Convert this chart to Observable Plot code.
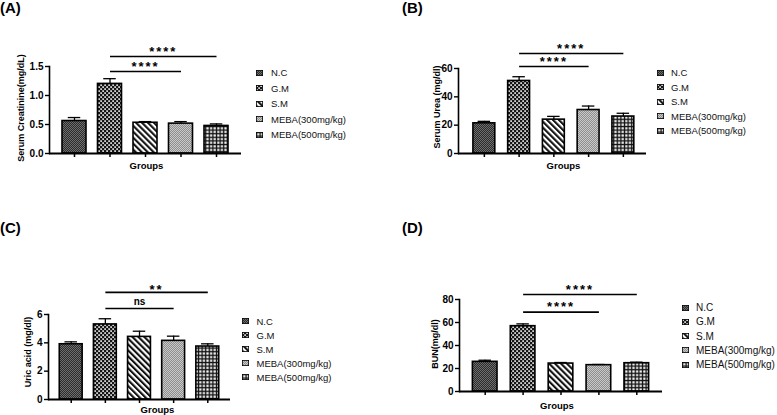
<!DOCTYPE html>
<html>
<head>
<meta charset="utf-8">
<script src="https://cdn.jsdelivr.net/npm/d3@7"></script>
<script src="https://cdn.jsdelivr.net/npm/@observablehq/plot@0.6"></script>
<style>
  html, body { margin: 0; padding: 0; background: #fff; }
  #root { position: relative; width: 777px; height: 415px; overflow: hidden; background: #fff;
          font-family: "Liberation Sans", Arial, sans-serif; color: #000; }
  .panel { position: absolute; }
  .title { position: absolute; font-weight: bold; font-size: 15px; line-height: 15px; white-space: nowrap; }
  .legend { position: absolute; }
  .legrow { position: absolute; left: 0; height: 12px; display: flex; align-items: center; white-space: nowrap; color: #111; }
  .legrow svg { flex: none; display: block; }
</style>
</head>
<body>
<svg width="0" height="0" style="position:absolute;left:0;top:0">
  <defs>
    <pattern id="pNC" width="2" height="2" patternUnits="userSpaceOnUse">
      <rect width="2" height="2" fill="#2c2c2c"/>
      <rect width="1" height="1" fill="#6e6e6e"/>
      <rect x="1" y="1" width="1" height="1" fill="#6e6e6e"/>
    </pattern>
    <pattern id="pGM" width="4" height="4" patternUnits="userSpaceOnUse">
      <rect width="4" height="4" fill="#151515"/>
      <rect x="0.3" y="0.3" width="1.6" height="1.6" fill="#fff"/>
      <rect x="2.3" y="2.3" width="1.6" height="1.6" fill="#fff"/>
    </pattern>
    <pattern id="pSM" width="4.2" height="4.2" patternUnits="userSpaceOnUse" patternTransform="rotate(-45)">
      <rect width="4.2" height="4.2" fill="#fff"/>
      <rect width="2.1" height="4.2" fill="#111"/>
    </pattern>
    <pattern id="pM3" width="2" height="2" patternUnits="userSpaceOnUse">
      <rect width="2" height="2" fill="#8e8e8e"/>
      <rect width="1" height="1" fill="#c9c9c9"/>
      <rect x="1" y="1" width="1" height="1" fill="#c9c9c9"/>
    </pattern>
    <pattern id="pM5" width="3.6" height="3.6" patternUnits="userSpaceOnUse">
      <rect width="3.6" height="3.6" fill="#111"/>
      <rect x="1.2" y="1.2" width="2.2" height="2.2" fill="#fff"/>
    </pattern>
  </defs>
</svg>
<div id="root"></div>
<script>
// ---------- data ----------
const groups = ["N.C", "G.M", "S.M", "MEBA(300mg/kg)", "MEBA(500mg/kg)"];

const creatinineMean = [0.56, 1.20, 0.53, 0.515, 0.475];
const creatinineSem  = [0.06, 0.09, 0.02, 0.035, 0.035];
const ureaMean = [21.3, 51.2, 23.9, 30.7, 26.1];
const ureaSem  = [1.4, 3.0, 2.3, 2.8, 2.3];
const uricMean = [3.9, 5.3, 4.42, 4.14, 3.74];
const uricSem  = [0.17, 0.4, 0.4, 0.33, 0.19];
const bunMean = [25.8, 56.8, 24.3, 22.9, 24.6];
const bunSem  = [1.4, 2.0, 0.9, 0.6, 0.9];

const creatinineTicks = [0, 0.5, 1.0, 1.5];
const ureaTicks = [0, 20, 40, 60];
const uricTicks = [0, 2, 4, 6];
const bunTicks = [0, 20, 40, 60, 80];

const creatinineSig = [
  {from: "G.M", to: "MEBA(500mg/kg)", y: 1.672, label: "****"},
  {from: "G.M", to: "MEBA(300mg/kg)", y: 1.414, label: "****"}
];
const ureaSig = [
  {from: "G.M", to: "MEBA(500mg/kg)", y: 70.6, label: "****"},
  {from: "G.M", to: "MEBA(300mg/kg)", y: 61.4, label: "****"}
];
const uricSig = [
  {from: "G.M", to: "MEBA(500mg/kg)", y: 7.56, label: "**"},
  {from: "G.M", to: "MEBA(300mg/kg)", y: 6.42, label: "ns"}
];
const bunSig = [
  {from: "G.M", to: "MEBA(500mg/kg)", y: 84.3, label: "****"},
  {from: "G.M", to: "MEBA(300mg/kg)", y: 69.0, label: "****"}
];

// ---------- styling / layout ----------
const patternFills = ["url(#pNC)", "url(#pGM)", "url(#pSM)", "url(#pM3)", "url(#pM5)"];
const FONT = "Liberation Sans, Arial, Helvetica, sans-serif";

const layout = {
  A: {left: 0, top: 0, width: 250, height: 180, mt: 66, mb: 27, ml: 49, mr: 9,
      pi: 0.324, po: 0.366, align: 0.5, labDx: -28, labDy: -2, grpDx: 1, grpDy: 12,
      title: {x: 0, y: 0}, leg: {x: 256, y: 72.5, step: 15.5, gap: 8, font: 9.5}},
  B: {left: 390, top: 0, width: 260, height: 180, mt: 68, mb: 27, ml: 68, mr: 4,
      pi: 0.37, po: 0.39, align: 0.55, labDx: -21, labDy: -4, grpDx: 11, grpDy: 12,
      title: {x: 402, y: 0}, leg: {x: 657, y: 72.5, step: 14.6, gap: 7, font: 9.5}},
  C: {left: 0, top: 200, width: 240, height: 215, mt: 114, mb: 16, ml: 48, mr: 10,
      pi: 0.33, po: 0.33, align: 0.5, labDx: -20, labDy: -5, grpDx: 18, grpDy: 10,
      title: {x: 0, y: 220}, leg: {x: 242, y: 321, step: 14, gap: 7.5, font: 9.5}},
  D: {left: 390, top: 200, width: 280, height: 215, mt: 99, mb: 24, ml: 69, mr: 8,
      pi: 0.35, po: 0.353, align: 0.5, labDx: -24, labDy: -1.5, grpDx: -4, grpDy: 14,
      title: {x: 402, y: 220}, leg: {x: 682, y: 307.5, step: 14.3, gap: 7, font: 10}}
};

const root = document.getElementById("root");

function panel(key, mean, sem, ticks, fmt, yMax, yLabel, sig) {
  const L = layout[key];
  const data = groups.map((g, i) => ({group: g, mean: mean[i], sem: sem[i]}));
  const fw = L.width - L.ml - L.mr;
  const step = fw / (groups.length - L.pi + 2 * L.po);
  const bw = step * (1 - L.pi);
  const capInset = Math.max(0, (bw - 12.5) / 2);

  const chart = Plot.plot({
    width: L.width, height: L.height,
    marginTop: L.mt, marginBottom: L.mb, marginLeft: L.ml, marginRight: L.mr,
    x: {domain: groups, paddingInner: L.pi, paddingOuter: L.po, align: L.align, round: false},
    y: {domain: [0, yMax]},
    color: {type: "ordinal", domain: groups, range: patternFills},
    style: {fontFamily: FONT, fontSize: "10px", fontWeight: "bold", color: "#000", background: "transparent", overflow: "visible"},
    marks: [
      Plot.barY(data, {x: "group", y: "mean", fill: "group", stroke: "#000", strokeWidth: 1.6}),
      Plot.ruleX(data, {x: "group", y1: "mean", y2: d => d.mean + d.sem, stroke: "#000", strokeWidth: 1.3}),
      Plot.tickY(data, {x: "group", y: d => d.mean + d.sem, insetLeft: capInset, insetRight: capInset, stroke: "#000", strokeWidth: 1.3}),
      Plot.axisY({ticks, tickFormat: fmt, tickSize: 4, tickPadding: 2, fontSize: 10, fontWeight: "bold", strokeWidth: 1.4, label: null}),
      Plot.axisX({tickSize: 4, tickFormat: () => "", label: null, strokeWidth: 1.5}),
      Plot.frame({anchor: "left", stroke: "#000", strokeWidth: 1.6}),
      Plot.ruleY([0], {stroke: "#000", strokeWidth: 2}),
      Plot.text([yLabel], {text: d => d, frameAnchor: "left", textAnchor: "middle", lineAnchor: "middle", rotate: -90, dx: L.labDx, dy: L.labDy, fontSize: 9, fontWeight: "bold"}),
      Plot.text(["Groups"], {text: d => d, frameAnchor: "bottom", textAnchor: "middle", lineAnchor: "middle", dx: L.grpDx, dy: L.grpDy, fontSize: 9.5, fontWeight: "bold"}),
      Plot.link(sig, {x1: "from", x2: "to", y1: "y", y2: "y", stroke: "#000", strokeWidth: 1.6}),
      ...sig.map(s => Plot.text([s], {
        x: "from", y: "y", text: "label",
        dx: (groups.indexOf(s.to) - groups.indexOf(s.from)) * step / 2,
        dy: s.label === "ns" ? -7 : (s.label.length === 2 ? -3 : -5),
        fontSize: s.label === "ns" ? 10 : 13, fontWeight: "bold"
      }))
    ]
  });
  chart.querySelectorAll("text").forEach(t => {
    if (/^\*+$/.test(t.textContent)) t.style.letterSpacing = "2px";
  });
  const wrap = document.createElement("div");
  wrap.className = "panel";
  wrap.style.left = L.left + "px";
  wrap.style.top = L.top + "px";
  wrap.appendChild(chart);
  root.appendChild(wrap);

  // panel title
  const title = document.createElement("div");
  title.className = "title";
  title.style.left = L.title.x + "px";
  title.style.top = L.title.y + "px";
  title.textContent = "(" + key + ")";
  root.appendChild(title);

  // legend
  const leg = document.createElement("div");
  leg.className = "legend";
  leg.style.left = L.leg.x + "px";
  leg.style.top = "0px";
  groups.forEach((g, i) => {
    const row = document.createElement("div");
    row.className = "legrow";
    row.style.top = (L.leg.y + i * L.leg.step - 6) + "px";
    row.style.fontSize = L.leg.font + "px";
    const ns = "http://www.w3.org/2000/svg";
    const sw = document.createElementNS(ns, "svg");
    sw.setAttribute("width", 7); sw.setAttribute("height", 6);
    const r = document.createElementNS(ns, "rect");
    r.setAttribute("x", 0.4); r.setAttribute("y", 0.4);
    r.setAttribute("width", 6.2); r.setAttribute("height", 5.2);
    r.setAttribute("fill", patternFills[i]);
    r.setAttribute("stroke", "#000"); r.setAttribute("stroke-width", 0.8);
    sw.appendChild(r);
    sw.style.marginRight = L.leg.gap + "px";
    row.appendChild(sw);
    const span = document.createElement("span");
    span.textContent = g;
    row.appendChild(span);
    leg.appendChild(row);
  });
  root.appendChild(leg);
}

panel("A", creatinineMean, creatinineSem, creatinineTicks, d3.format(".1f"), 1.5, "Serum Creatinine(mg/dL)", creatinineSig);
panel("B", ureaMean, ureaSem, ureaTicks, d3.format("d"), 60, "Serum Urea (mg/dl)", ureaSig);
panel("C", uricMean, uricSem, uricTicks, d3.format("d"), 6, "Uric acid (mg/dl)", uricSig);
panel("D", bunMean, bunSem, bunTicks, d3.format("d"), 80, "BUN(mg/dl)", bunSig);
</script>
</body>
</html>
